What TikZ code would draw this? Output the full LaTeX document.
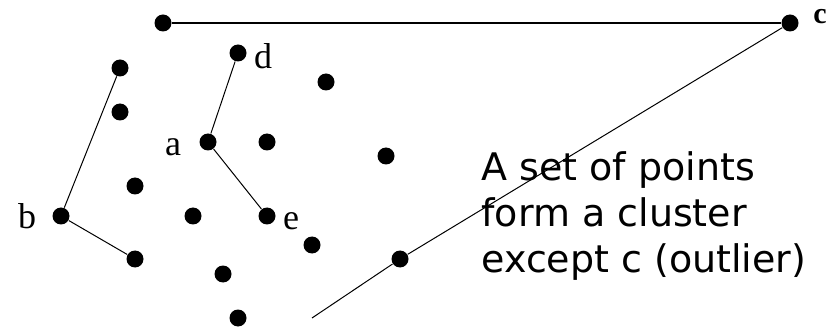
\documentclass[tikz,border=0pt]{standalone}
\usepackage{fontspec}
\setmainfont{Liberation Serif}
\newfontfamily\notefont{DejaVu Sans}
\usetikzlibrary{positioning}

\begin{document}
\begin{tikzpicture}[x=1pt, y=-1pt, line width=1pt,
    dot/.style={circle, fill, inner sep=0pt, minimum size=17pt},
    lbl/.style={inner sep=0pt, font=\fontsize{36}{40}\selectfont}]
    \useasboundingbox (0,0) rectangle (838,331);
    % labelled points
    \node[dot] (a) at (208,142) {};
    \node[dot] (b) at (61,216)  {};
    \node[dot] (c) at (790,23)  {};
    \node[dot] (d) at (238,53)  {};
    \node[dot] (e) at (267,216) {};
    % other points
    \node[dot] (p1)  at (163,23)  {};
    \node[dot] (p2)  at (120,68)  {};
    \node[dot] (p3)  at (326,82)  {};
    \node[dot] (p4)  at (120,112) {};
    \node[dot] (p5)  at (267,142) {};
    \node[dot] (p6)  at (386,156) {};
    \node[dot] (p7)  at (135,186) {};
    \node[dot] (p8)  at (193,216) {};
    \node[dot] (p9)  at (312,245) {};
    \node[dot] (p10) at (400,259) {};
    \node[dot] (p11) at (135,259) {};
    \node[dot] (p12) at (223,274) {};
    \node[dot] (p13) at (238,318) {};
    \coordinate (tail) at (312,318);
    % names
    \node[lbl] (la) at (173,147) {a};
    \node[lbl] (lb) at (27,216)  {b};
    \node[lbl, font=\fontsize{30}{32}\bfseries] (lc) at (820,17) {c};
    \node[lbl] (ld) at (263,56)  {d};
    \node[lbl] (le) at (291,221) {e};
    % distances
    \draw[line width=1.4pt] (p1) -- (c);
    \draw (c) -- (p10) -- (tail);
    \draw (p2) -- (b) -- (p11);
    \draw (d) -- (a) -- (e);
    \node[anchor=north west, inner sep=0pt, align=left,
          font=\notefont\fontsize{38}{46}\selectfont] (note) at (481,151)
      {A set of points\\form a cluster\\except c (outlier)};
\end{tikzpicture}
\end{document}
